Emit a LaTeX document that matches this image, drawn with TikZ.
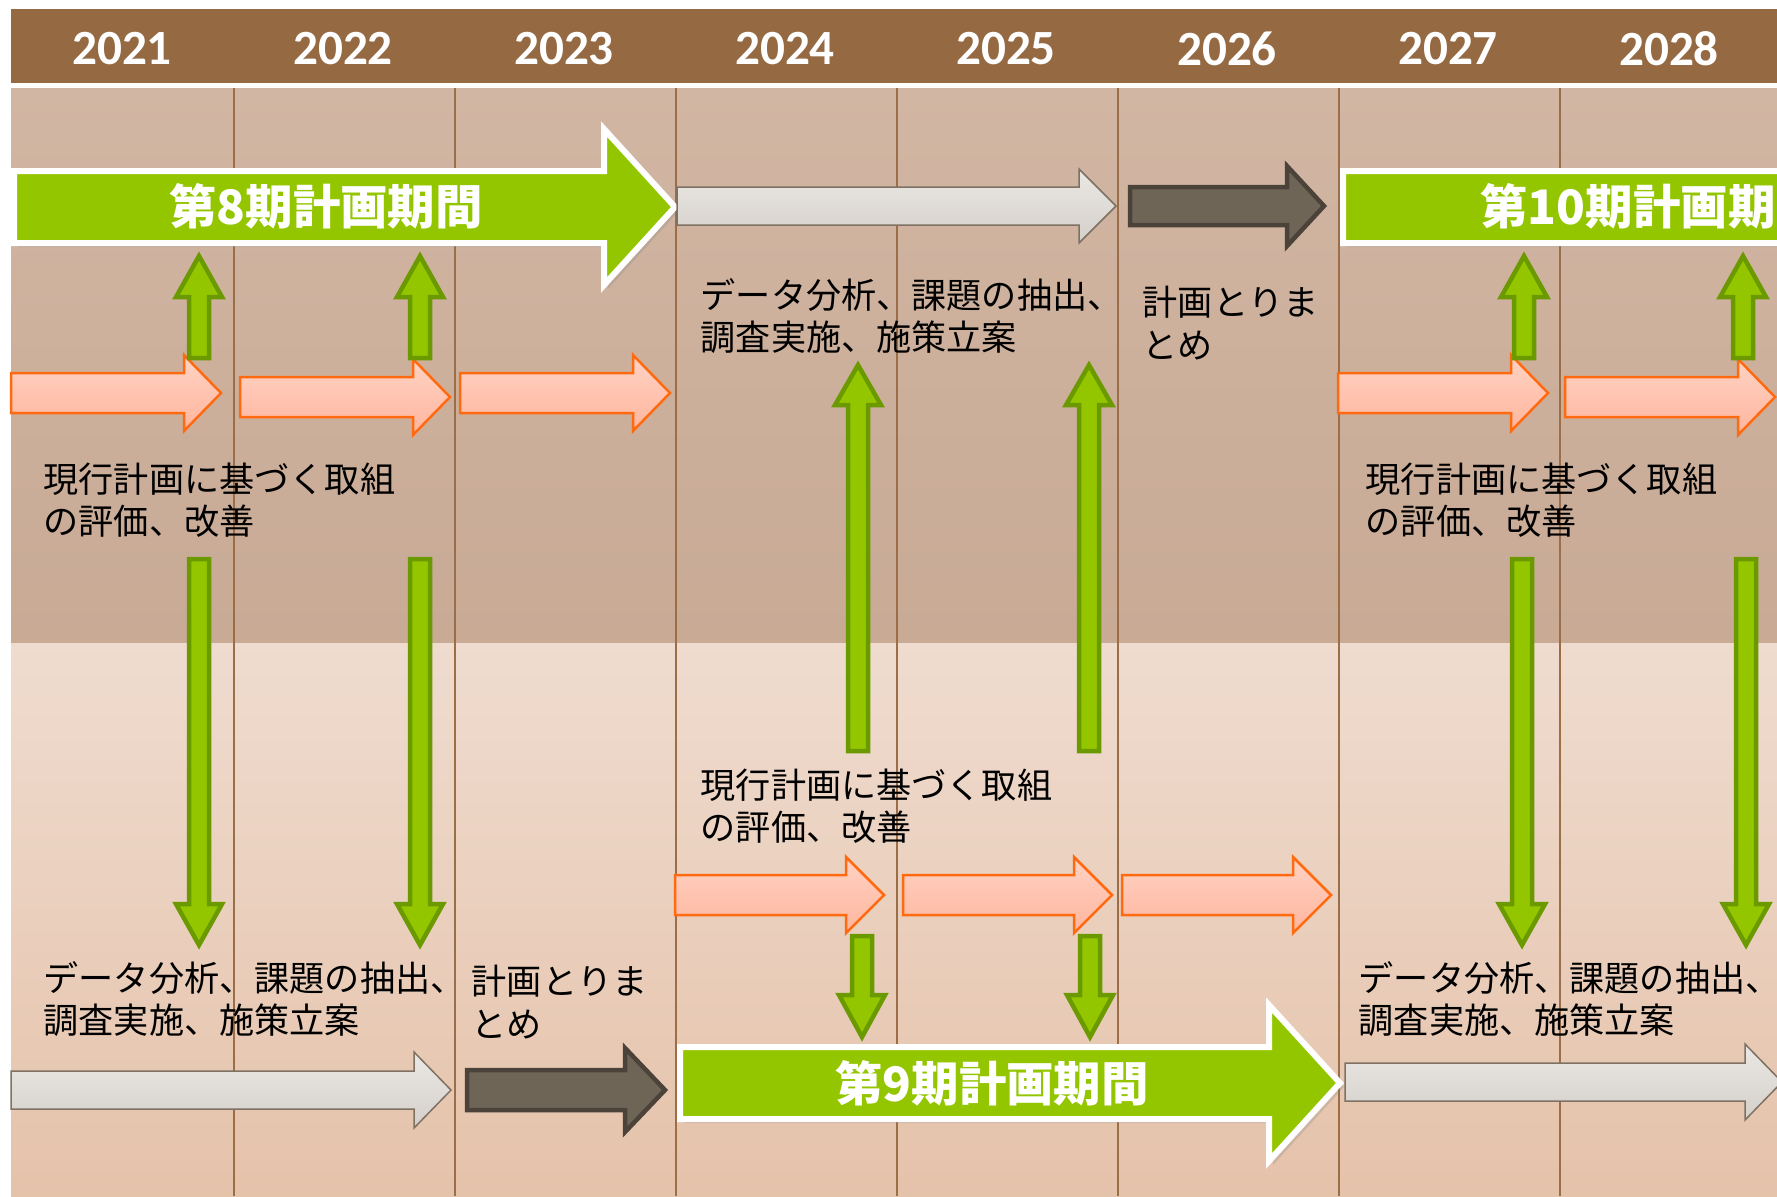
\documentclass[tikz,border=0pt]{standalone}
\usepackage{fontspec}
\usetikzlibrary{shadows}
\newfontfamily\jpfont{Noto Sans CJK JP}
\newfontfamily\yearfont{Carlito}

\definecolor{hdrbrown}{HTML}{956A43}
\definecolor{upbgtop}{HTML}{D1B6A3}
\definecolor{upbgbot}{HTML}{C8AA95}
\definecolor{lowbgtop}{HTML}{EFDCCF}
\definecolor{lowbgbot}{HTML}{E5C2AA}
\definecolor{linebrown}{HTML}{9C6E48}
\definecolor{plangreen}{HTML}{94C600}
\definecolor{plangreendk}{HTML}{6B9900}
\definecolor{pinktop}{HTML}{FFD3C4}
\definecolor{pinkbot}{HTML}{FFB59D}
\definecolor{pinkedge}{HTML}{FF6A10}
\definecolor{greytop}{HTML}{EBE8E5}
\definecolor{greybot}{HTML}{D4CFC9}
\definecolor{greyedge}{HTML}{7E7163}
\definecolor{darkfill}{HTML}{6F6557}
\definecolor{darkedge}{HTML}{4B4239}

% block arrow to the right: style, x tail, x head, x tip, y centre, half shaft, half head
\newcommand{\harrow}[7]{%
  \path[#1] (#2,#5-#6) -- (#3,#5-#6) -- (#3,#5-#7) -- (#4,#5)
    -- (#3,#5+#7) -- (#3,#5+#6) -- (#2,#5+#6) -- cycle;}
% block arrow up or down: style, x centre, y tail, y head, y tip, half shaft, half head
\newcommand{\varrow}[7]{%
  \path[#1] (#2-#6,#3) -- (#2-#6,#4) -- (#2-#7,#4) -- (#2,#5)
    -- (#2+#7,#4) -- (#2+#6,#4) -- (#2+#6,#3) -- cycle;}

\begin{document}
\begin{tikzpicture}[x=0.1mm, y=-0.1mm,
    planarrow/.style = {fill=plangreen, draw=white, line width=0.6mm,
                        drop shadow={opacity=0.25, shadow xshift=0.4mm, shadow yshift=-0.4mm}},
    pinkarrow/.style = {draw=pinkedge, line width=0.25mm,
                        top color=pinktop, bottom color=pinkbot},
    greyarrow/.style = {draw=greyedge, line width=0.15mm,
                        top color=greytop, bottom color=greybot},
    darkarrow/.style = {fill=darkfill, draw=darkedge, line width=0.45mm},
    feedarrow/.style = {fill=plangreen, draw=plangreendk, line width=0.45mm},
    yearlabel/.style = {text=white, font=\yearfont\bfseries\fontsize{14}{16}\selectfont},
    planlabel/.style = {text=white, font=\jpfont\bfseries\fontsize{13.5}{16}\selectfont},
    steplabel/.style = {anchor=west, align=left, inner sep=0pt,
                        font=\jpfont\fontsize{10}{12}\selectfont}]
  \useasboundingbox (0,0) rectangle (1777,1196);
  \clip (0,0) rectangle (1777,1196);

  % background and year header
  \fill[hdrbrown] (11,9) rectangle (1777,83);
  \path[top color=upbgtop, bottom color=upbgbot] (11,88) rectangle (1777,643);
  \path[top color=lowbgtop, bottom color=lowbgbot] (11,643) rectangle (1777,1196);
  \foreach \i in {1,...,7}
    \draw[linebrown, line width=0.15mm] ({12.8+221*\i},88) -- ({12.8+221*\i},1196);
  \foreach \yr [count=\i from 0] in {2021,...,2028}
    \node[yearlabel] (y\yr) at ({122+221*\i},49) {\yr};

  % upper row
  \harrow{planarrow}{14}{604}{675}{207}{36}{78}
  \harrow{greyarrow}{677}{1079}{1116}{206}{19}{37}
  \harrow{darkarrow}{1130}{1287}{1324}{206}{19}{40}
  \harrow{planarrow}{1343}{1900}{1950}{207}{36}{78}
  \foreach \l/\yc in {11/393, 240/397, 460/393, 1338/393, 1565/397}
    {\harrow{pinkarrow}{\l}{\l+173}{\l+210}{\yc}{20}{38}}
  \foreach \x in {199,420,1524,1743}
    {\varrow{feedarrow}{\x}{358}{297}{256}{10}{23}}
  \foreach \x in {858,1089}
    {\varrow{feedarrow}{\x}{751}{405}{365}{10}{23}}
  \foreach \x in {199,420,1522,1746}
    {\varrow{feedarrow}{\x}{559}{904}{945}{10}{23}}

  % lower row
  \foreach \l in {675,903,1122}
    {\harrow{pinkarrow}{\l}{\l+171}{\l+209}{895}{20}{38}}
  \foreach \x in {862,1090}
    {\varrow{feedarrow}{\x}{936}{995}{1037}{10}{23}}
  \harrow{greyarrow}{11}{414}{451}{1090}{19}{38}
  \harrow{darkarrow}{467}{625}{665}{1090}{20}{42}
  \harrow{planarrow}{680}{1269}{1340}{1083}{36}{78}
  \harrow{greyarrow}{1345}{1745}{1782}{1082}{19}{38}

  % labels
  \node[planlabel] (plan8) at (326,206) {第8期計画期間};
  \node[planlabel, anchor=west] (plan10) at (1468,206) {第10期計画期間};
  \node[planlabel] (plan9) at (992,1083) {第9期計画期間};
  \node[steplabel] (analysis24) at (700,316) {データ分析、課題の抽出、\\調査実施、施策立案};
  \node[steplabel] (draft26) at (1142,323) {計画とりま\\とめ};
  \node[steplabel] (review21) at (43,500) {現行計画に基づく取組\\の評価、改善};
  \node[steplabel] (review27) at (1365,500) {現行計画に基づく取組\\の評価、改善};
  \node[steplabel] (review24) at (700,806) {現行計画に基づく取組\\の評価、改善};
  \node[steplabel] (analysis21) at (43,999) {データ分析、課題の抽出、\\調査実施、施策立案};
  \node[steplabel] (draft23) at (471,1002) {計画とりま\\とめ};
  \node[steplabel] (analysis27) at (1358,999) {データ分析、課題の抽出、\\調査実施、施策立案};
\end{tikzpicture}
\end{document}
